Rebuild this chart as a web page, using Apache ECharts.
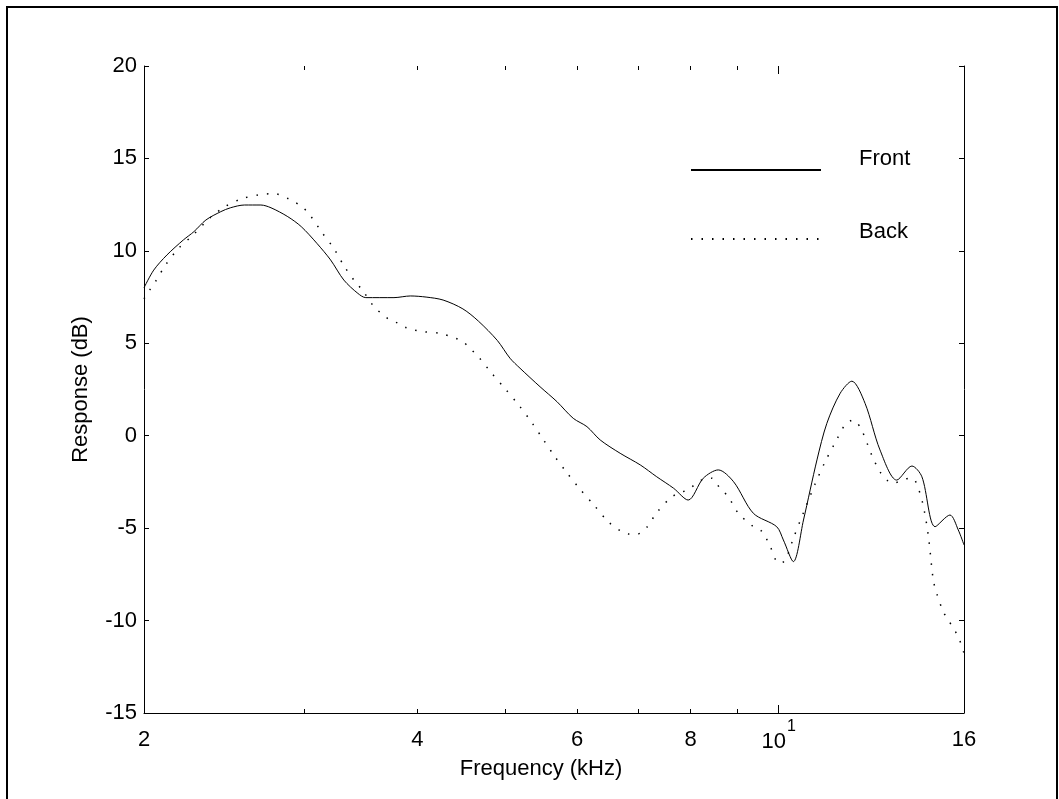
<!DOCTYPE html>
<html>
<head>
<meta charset="utf-8">
<title>Front / Back response</title>
<script src="https://cdn.jsdelivr.net/npm/echarts@6/dist/echarts.min.js"></script>
<style>
  html, body { margin: 0; padding: 0; background: #fff; }
  #main { width: 1059px; height: 799px; }
</style>
</head>
<body>
<div id="main"></div>
<script>
  // values: frequency in kHz, response in dB
  var frontFreq = [2.00, 2.05, 2.12, 2.21, 2.27, 2.34, 2.43, 2.49, 2.58, 2.69,
    2.76, 2.88, 2.98, 3.10, 3.21, 3.32, 3.44, 3.51, 3.77, 3.93,
    4.09, 4.27, 4.49, 4.67, 4.90, 5.06, 5.19, 5.46, 5.70, 5.94,
    6.15, 6.36, 6.69, 7.04, 7.34, 7.66, 7.95, 8.26, 8.58, 8.92,
    9.38, 9.95, 10.12, 10.38, 10.65, 11.02, 11.30, 11.69, 12.04, 12.45,
    12.93, 13.49, 14.02, 14.38, 14.87, 15.44, 15.77, 16.00];
  var frontDb = [8.0, 8.96, 9.78, 10.59, 11.04, 11.67, 12.12, 12.33, 12.48, 12.48,
    12.33, 11.85, 11.31, 10.41, 9.51, 8.42, 7.70, 7.47, 7.47, 7.56,
    7.50, 7.34, 6.86, 6.20, 5.15, 4.19, 3.65, 2.65, 1.84, 0.94,
    0.49, -0.23, -0.95, -1.58, -2.22, -2.84, -3.48, -2.30, -1.85, -2.49,
    -4.20, -4.92, -5.64, -6.81, -4.56, -1.31, 0.67, 2.30, 2.95, 1.75,
    -0.77, -2.40, -1.64, -2.22, -4.92, -4.29, -5.10, -5.91];

  var backFreq = [2.00, 2.03, 2.06, 2.11, 2.18, 2.27, 2.36, 2.45, 2.56, 2.67,
    2.78, 2.89, 2.99, 3.05, 3.14, 3.24, 3.32, 3.42, 3.48, 3.58,
    3.65, 3.72, 3.81, 3.89, 3.97, 4.06, 4.23, 4.41, 4.49, 4.57,
    4.67, 4.83, 5.00, 5.18, 5.35, 5.50, 5.66, 5.84, 6.04, 6.26,
    6.49, 6.72, 6.85, 6.99, 7.16, 7.33, 7.59, 7.77, 7.94, 8.09,
    8.26, 8.44, 8.62, 8.80, 9.03, 9.38, 9.59, 9.79, 9.99, 10.08,
    10.21, 10.38, 10.65, 10.97, 11.25, 11.59, 11.84, 12.09, 12.34, 12.66,
    12.93, 13.16, 13.37, 13.66, 13.96, 14.13, 14.41, 14.62, 14.80, 14.93,
    15.18, 15.38, 15.57, 15.77, 16.00];
  var backDb = [7.4, 7.9, 8.35, 9.2, 10.1, 10.9, 11.75, 12.36, 12.81, 13.02,
    13.1, 12.8, 12.36, 11.9, 11.0, 10.1, 9.2, 8.3, 7.88, 7.0,
    6.62, 6.31, 6.08, 5.84, 5.72, 5.63, 5.54, 5.27, 5.09, 4.73,
    4.27, 3.38, 2.53, 1.62, 0.70, -0.18, -1.08, -1.98, -2.88, -3.75,
    -4.65, -5.19, -5.32, -5.32, -4.95, -4.20, -3.39, -3.08, -2.94, -2.63,
    -2.36, -2.30, -2.85, -3.30, -4.20, -4.92, -5.19, -6.00, -6.87, -6.87,
    -6.54, -5.55, -4.16, -2.60, -1.41, -0.20, 0.60, 0.85, 0.31, -1.04,
    -1.95, -2.40, -2.58, -2.40, -2.30, -2.40, -3.66, -5.46, -7.80, -8.53,
    -9.52, -9.97, -10.42, -10.87, -11.77];

  var xLabelValues = [2, 4, 6, 8, 10, 16];
  var xTickValues = [3, 4, 5, 6, 7, 8, 9, 10];
  var xMajorTick = [10];
  var yMin = -15, yMax = 20, yStep = 5;

  function zip(xs, ys) {
    return xs.map(function (x, i) { return [x, ys[i]]; });
  }

  var font = 'Liberation Sans';
  var black = '#000';

  function tickAxis(pos, ticks, len) {
    return {
      type: 'log', logBase: 10, min: 2, max: 16, position: pos,
      axisLine: { show: false, onZero: false },
      axisTick: { show: true, inside: true, length: len, customValues: ticks,
        lineStyle: { color: black, width: 1 } },
      axisLabel: { show: false },
      splitLine: { show: false }
    };
  }

  // legend entry: line key with its text lifted above the key, as in the original
  function legendBox(name, top, lift) {
    return {
      data: [name], left: 685, top: top, orient: 'vertical',
      itemWidth: 130, itemHeight: 20, selectedMode: false,
      itemStyle: { opacity: 0 },
      formatter: '{t|{name}}',
      textStyle: {
        fontFamily: font, fontSize: 22, color: black,
        rich: { t: { fontFamily: font, fontSize: 22, color: black, padding: [0, 0, lift, 33] } }
      }
    };
  }

  var myChart = echarts.init(document.getElementById('main'));
  var option = {
    backgroundColor: '#fff',
    animation: false,
    graphic: [{
      type: 'rect', silent: true, z: -10,
      shape: { x: 7, y: 7, width: 1050, height: 830 },
      style: { fill: 'none', stroke: black, lineWidth: 2 }
    }],
    grid: { left: 144, right: 95, top: 66, bottom: 86, show: false },
    legend: [legendBox('Front', 143, 22), legendBox('Back', 216, 14)],
    xAxis: [{
      type: 'log', logBase: 10, min: 2, max: 16, position: 'bottom',
      name: 'Frequency (kHz)', nameLocation: 'middle', nameGap: 40,
      nameTextStyle: { fontFamily: font, fontSize: 22, color: black, padding: [0, 26, 0, 0] },
      axisLine: { show: true, onZero: false, lineStyle: { color: black, width: 1 } },
      axisTick: { show: true, inside: true, length: 4, customValues: xTickValues,
        lineStyle: { color: black, width: 1 } },
      axisLabel: {
        customValues: xLabelValues, margin: 6, color: black,
        formatter: function (v) {
          return v === 10 ? '{n|10}{e|1}' : '{n|' + v + '}';
        },
        rich: {
          n: { fontFamily: font, fontSize: 22, color: black, padding: [10, 0, 0, 0] },
          e: { fontFamily: font, fontSize: 16, color: black, padding: [0, 0, 20, 1] }
        }
      },
      splitLine: { show: false }
    },
    tickAxis('bottom', xMajorTick, 8),
    tickAxis('top', xTickValues, 4),
    tickAxis('top', xMajorTick, 8)
    ],
    yAxis: [{
      type: 'value', min: yMin, max: yMax, interval: yStep, position: 'left',
      name: 'Response (dB)', nameLocation: 'middle', nameGap: 52,
      nameTextStyle: { fontFamily: font, fontSize: 22, color: black },
      axisLine: { show: true, onZero: false, lineStyle: { color: black, width: 1 } },
      axisTick: { show: true, inside: true, length: 5, lineStyle: { color: black, width: 1 } },
      axisLabel: { margin: 7, fontFamily: font, fontSize: 22, color: black },
      splitLine: { show: false }
    }, {
      type: 'value', min: yMin, max: yMax, interval: yStep, position: 'right',
      axisLine: { show: true, onZero: false, lineStyle: { color: black, width: 1 } },
      axisTick: { show: true, inside: true, length: 5, lineStyle: { color: black, width: 1 } },
      axisLabel: { show: false },
      splitLine: { show: false }
    }],
    series: [{
      name: 'Front', type: 'line', xAxisIndex: 0, yAxisIndex: 0,
      data: zip(frontFreq, frontDb),
      symbol: 'none', smooth: 0.3,
      lineStyle: { color: black, width: 1 },
      itemStyle: { color: black }
    }, {
      name: 'Back', type: 'line', xAxisIndex: 0, yAxisIndex: 0,
      data: zip(backFreq, backDb),
      symbol: 'none', smooth: 0.3,
      lineStyle: { color: black, width: 1.5, type: [1.5, 9] },
      itemStyle: { color: black }
    }]
  };
  myChart.setOption(option);
  window.addEventListener('resize', function () { myChart.resize(); });
</script>
</body>
</html>
